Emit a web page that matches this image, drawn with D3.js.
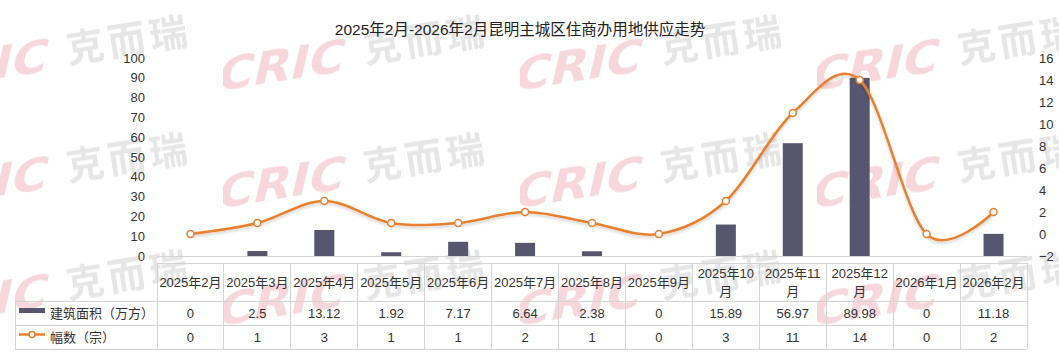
<!DOCTYPE html>
<html>
<head>
<meta charset="utf-8">
<script src="https://cdn.jsdelivr.net/npm/d3@7/dist/d3.min.js"></script>
<style>
    body { margin: 0; background: #fff; }
    svg text { font-family: "Liberation Sans", "Noto Sans CJK SC", sans-serif; fill: #333; }
</style>
</head>
<body>
<div id="chart_area"></div>
<script>
// chart data
const months = ["2025年2月", "2025年3月", "2025年4月", "2025年5月", "2025年6月", "2025年7月", "2025年8月",
    "2025年9月", "2025年10月", "2025年11月", "2025年12月", "2026年1月", "2026年2月"];
const area_values = [0, 2.5, 13.12, 1.92, 7.17, 6.64, 2.38, 0, 15.89, 56.97, 89.98, 0, 11.18];
const count_values = [0, 1, 3, 1, 1, 2, 1, 0, 3, 11, 14, 0, 2];
const left_ticks = [0, 10, 20, 30, 40, 50, 60, 70, 80, 90, 100];
const right_ticks = [-2, 0, 2, 4, 6, 8, 10, 12, 14, 16];
const series_names = ["建筑面积（万方）", "幅数（宗）"];
const title_text = "2025年2月-2026年2月昆明主城区住商办用地供应走势";

const WIDTH = 1059, HEIGHT = 359;
const BAR_COLOR = "#58566f";
const LINE_COLOR = "#e8802f";
const GRID_COLOR = "#d4d4d4";

const plot = {left: 157, right: 1027, top: 58, bottom: 256};
const table = {left: 15, headTop: 263, row1: 301, row2: 325, bottom: 349};

const svg = d3.select("#chart_area")
    .append("svg")
    .attr("width", WIDTH)
    .attr("height", HEIGHT);

const defs = svg.append("defs");

// soft shadow used by the line
defs.append("filter")
    .attr("id", "line_shadow")
    .attr("x", "-5%").attr("y", "-20%").attr("width", "110%").attr("height", "140%")
    .append("feDropShadow")
    .attr("dx", 0).attr("dy", 2).attr("stdDeviation", 1.5)
    .attr("flood-color", "#000").attr("flood-opacity", 0.18);

// watermark tile, repeated over the background
const tile = defs.append("pattern")
    .attr("id", "watermark")
    .attr("patternUnits", "userSpaceOnUse")
    .attr("x", -74).attr("y", -5)
    .attr("width", 297).attr("height", 117.5)
    .append("g")
    .attr("transform", "translate(0,95) rotate(-9)");
tile.append("g")
    .attr("transform", "skewX(-22)")
    .append("text")
    .text("CRIC")
    .attr("x", -8)
    .attr("textLength", 128)
    .attr("lengthAdjust", "spacingAndGlyphs")
    .style("font-family", "'DejaVu Sans', sans-serif")
    .style("font-weight", "bold")
    .style("font-size", "44px")
    .style("fill", "#f7d7dc");
tile.append("text")
    .text("克而瑞")
    .attr("x", 145)
    .attr("y", -4)
    .style("font-family", "'Noto Sans CJK SC', sans-serif")
    .style("font-weight", "bold")
    .style("font-size", "38px")
    .style("letter-spacing", "4px")
    .style("fill", "#e6e6e6");

svg.append("rect")
    .attr("width", WIDTH)
    .attr("height", HEIGHT)
    .attr("fill", "url(#watermark)");

// title
svg.append("text")
    .attr("x", 520)
    .attr("y", 35)
    .attr("text-anchor", "middle")
    .style("font-size", "15.5px")
    .style("fill", "#222")
    .text(title_text);

// scales
const x = d3.scaleBand()
    .domain(months)
    .range([plot.left, plot.right]);

const y_left = d3.scaleLinear()
    .domain([0, 100])
    .range([plot.bottom, plot.top]);

const y_right = d3.scaleLinear()
    .domain([-2, 16])
    .range([plot.bottom, plot.top]);

// axes
const left_axis = svg.append("g")
    .attr("transform", `translate(${plot.left},0)`)
    .call(d3.axisLeft(y_left).tickValues(left_ticks).tickSize(0).tickPadding(12));
const right_axis = svg.append("g")
    .attr("transform", `translate(${plot.right},0)`)
    .call(d3.axisRight(y_right).tickValues(right_ticks).tickSize(0).tickPadding(12));
[left_axis, right_axis].forEach(function (a) {
    a.select(".domain").remove();
    a.selectAll("text").style("font-size", "13px").style("fill", "#333").style("font-family", null);
});

// x axis line
svg.append("line")
    .attr("x1", plot.left).attr("x2", plot.right)
    .attr("y1", plot.bottom + 0.5).attr("y2", plot.bottom + 0.5)
    .attr("stroke", GRID_COLOR);

// bars
const BAR_WIDTH = 20;
svg.append("g")
    .selectAll("rect")
    .data(area_values)
    .enter()
    .append("rect")
    .attr("x", function (d, i) { return x(months[i]) + x.bandwidth() / 2 - BAR_WIDTH / 2; })
    .attr("y", function (d) { return y_left(d); })
    .attr("width", BAR_WIDTH)
    .attr("height", function (d) { return y_left(0) - y_left(d); })
    .attr("fill", BAR_COLOR);

// line
const line = d3.line()
    .x(function (d, i) { return x(months[i]) + x.bandwidth() / 2; })
    .y(function (d) { return y_right(d); })
    .curve(d3.curveCardinal.tension(0));

svg.append("path")
    .datum(count_values)
    .attr("d", line)
    .attr("fill", "none")
    .attr("stroke", LINE_COLOR)
    .attr("stroke-width", 2.5)
    .attr("filter", "url(#line_shadow)");

svg.append("g")
    .selectAll("circle")
    .data(count_values)
    .enter()
    .append("circle")
    .attr("cx", function (d, i) { return x(months[i]) + x.bandwidth() / 2; })
    .attr("cy", function (d) { return y_right(d); })
    .attr("r", 3.5)
    .attr("fill", "#fff")
    .attr("stroke", LINE_COLOR)
    .attr("stroke-width", 1.5);

// data table
const grid = svg.append("g")
    .attr("stroke", GRID_COLOR)
    .attr("stroke-width", 1)
    .attr("shape-rendering", "crispEdges");

grid.append("line")
    .attr("x1", plot.left).attr("x2", plot.right)
    .attr("y1", table.headTop).attr("y2", table.headTop);
[table.row1, table.row2, table.bottom].forEach(function (yy) {
    grid.append("line")
        .attr("x1", table.left).attr("x2", plot.right)
        .attr("y1", yy).attr("y2", yy);
});
grid.append("line")
    .attr("x1", table.left).attr("x2", table.left)
    .attr("y1", table.row1).attr("y2", table.bottom);
months.concat([null]).forEach(function (m) {
    const xx = m === null ? plot.right : x(m);
    grid.append("line")
        .attr("x1", xx).attr("x2", xx)
        .attr("y1", table.headTop).attr("y2", table.bottom);
});

// header labels, wrapped when wider than the column
const head = svg.append("g").style("font-size", "13px");
months.forEach(function (m) {
    const cx = x(m) + x.bandwidth() / 2;
    const t = head.append("text")
        .attr("x", cx)
        .attr("text-anchor", "middle")
        .text(m);
    let lines = [m];
    if (t.node().getComputedTextLength() > x.bandwidth() - 1) {
        let cut = m.length - 1;
        t.text(m.slice(0, cut));
        while (cut > 1 && t.node().getComputedTextLength() > x.bandwidth() - 1) {
            cut--;
            t.text(m.slice(0, cut));
        }
        lines = [m.slice(0, cut), m.slice(cut)];
    }
    t.text(null);
    const mid = (table.headTop + table.row1) / 2 + 4.5;
    const start = mid - (lines.length - 1) * 9;
    lines.forEach(function (s, k) {
        t.append("tspan")
            .attr("x", cx)
            .attr("y", start + k * 18)
            .text(s);
    });
});

// value rows
const rows = [
    {name: series_names[0], values: area_values, mid: (table.row1 + table.row2) / 2},
    {name: series_names[1], values: count_values, mid: (table.row2 + table.bottom) / 2}
];
rows.forEach(function (r, ri) {
    const g = svg.append("g").style("font-size", "13px");
    r.values.forEach(function (v, i) {
        g.append("text")
            .attr("x", x(months[i]) + x.bandwidth() / 2)
            .attr("y", r.mid + 4.5)
            .attr("text-anchor", "middle")
            .text(String(v));
    });
    g.append("text")
        .attr("x", 50)
        .attr("y", r.mid + 4.5)
        .text(r.name);
    if (ri === 0) {
        g.append("rect")
            .attr("x", 19).attr("y", r.mid - 5)
            .attr("width", 26).attr("height", 5)
            .attr("fill", BAR_COLOR);
    } else {
        g.append("line")
            .attr("x1", 19).attr("x2", 45)
            .attr("y1", r.mid - 2.5).attr("y2", r.mid - 2.5)
            .attr("stroke", LINE_COLOR).attr("stroke-width", 2.5);
        g.append("circle")
            .attr("cx", 32).attr("cy", r.mid - 2.5).attr("r", 3)
            .attr("fill", "#fff").attr("stroke", LINE_COLOR).attr("stroke-width", 1.5);
    }
});
</script>
</body>
</html>
